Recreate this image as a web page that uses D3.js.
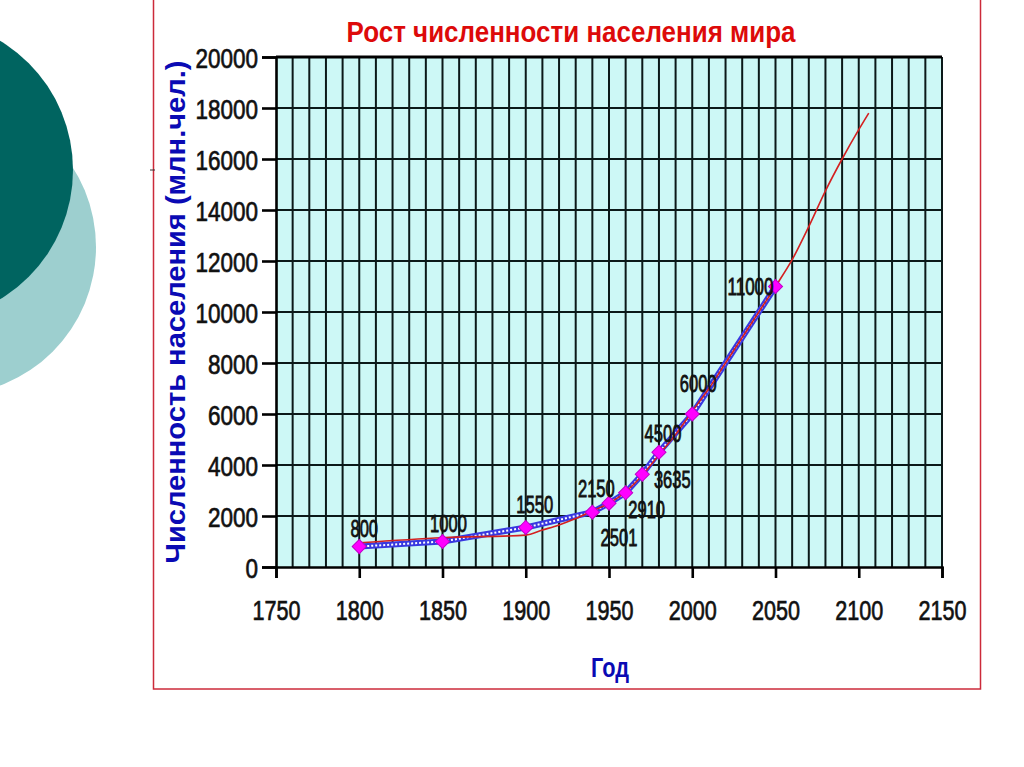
<!DOCTYPE html>
<html>
<head>
<meta charset="utf-8">
<script src="https://cdn.jsdelivr.net/npm/d3@7"></script>
<style>
  html, body { margin: 0; padding: 0; background: #fff; }
  svg { display: block; }
</style>
</head>
<body>
<script>
// World population growth chart (Рост численности населения мира)

// ---------------------------------------------------------------------------
// Data
// ---------------------------------------------------------------------------

const YEARS = [1800, 1850, 1900, 1940, 1950, 1960, 1970, 1980, 2000, 2050];
const POPULATION = [800, 1000, 1550, 2150, 2501, 2910, 3635, 4500, 6000, 11000];

// Red trend line
const TREND_YEARS = [1800, 1850, 1900, 1910, 1920, 1930, 1940, 1950, 1960, 1970, 1980, 1990,
  2000, 2010, 2020, 2030, 2040, 2050, 2060, 2070, 2080, 2090, 2100, 2106];
const TREND_VALUES = [950, 1150, 1250, 1450, 1650, 1900, 2200, 2500, 2950, 3600, 4400, 5200,
  6100, 7000, 8000, 9000, 10000, 11000, 12050, 13350, 14750, 16000, 17150, 17800];

const X_TICKS = [1750, 1800, 1850, 1900, 1950, 2000, 2050, 2100, 2150];
const Y_TICKS = [0, 2000, 4000, 6000, 8000, 10000, 12000, 14000, 16000, 18000, 20000];

const TITLE = "Рост численности населения мира";
const Y_TITLE = "Численность населения (млн.чел.)";
const X_TITLE = "Год";

// Label offsets from each point (layout only)
const LABEL_OFFSETS = [[5, -10], [6, -10], [9, -14], [4, -15], [10, 43], [21, 25], [30, 14], [4, -10], [6, -22], [-25, 8]];

// ---------------------------------------------------------------------------
// Layout
// ---------------------------------------------------------------------------

const W = 1024, H = 767;
const plot = { left: 276, right: 942, top: 57, bottom: 567 };
const NARROW = "'Liberation Sans Narrow', 'Liberation Sans', Arial, sans-serif";

const svg = d3.select("body").append("svg")
  .attr("width", W)
  .attr("height", H)
  .attr("font-family", NARROW);

svg.append("rect").attr("width", W).attr("height", H).attr("fill", "#fff");

// Decorative circles on the left
svg.append("circle").attr("cx", -52).attr("cy", 247).attr("r", 148).attr("fill", "#9dcfcf");
svg.append("circle").attr("cx", -78).attr("cy", 170).attr("r", 151).attr("fill", "#006460");

// Red frame
svg.append("rect")
  .attr("x", 153.5).attr("y", -5).attr("width", 827).attr("height", 694)
  .attr("fill", "none").attr("stroke", "#cc2a3a").attr("stroke-width", 1.5);
svg.append("line")
  .attr("x1", 150).attr("x2", 155).attr("y1", 170).attr("y2", 170)
  .attr("stroke", "#333").attr("stroke-width", 1);

const x = d3.scaleLinear().domain([1750, 2150]).range([plot.left, plot.right]);
const y = d3.scaleLinear().domain([0, 20000]).range([plot.bottom, plot.top]);

// Plot background
svg.append("rect")
  .attr("x", plot.left).attr("y", plot.top)
  .attr("width", plot.right - plot.left).attr("height", plot.bottom - plot.top)
  .attr("fill", "#cdf8f6");

// Grid
const grid = svg.append("g").attr("stroke", "#0b1919").attr("stroke-width", 2);
grid.selectAll("line.v")
  .data(d3.range(1760, 2151, 10))
  .join("line")
  .attr("x1", (d) => x(d)).attr("x2", (d) => x(d))
  .attr("y1", plot.top).attr("y2", plot.bottom);
grid.selectAll("line.h")
  .data(Y_TICKS.slice(1))
  .join("line")
  .attr("x1", plot.left).attr("x2", plot.right)
  .attr("y1", (d) => y(d)).attr("y2", (d) => y(d));
svg.append("line")
  .attr("x1", plot.left).attr("x2", plot.right)
  .attr("y1", plot.top).attr("y2", plot.top)
  .attr("stroke", "#000").attr("stroke-width", 3);

// Axes
const yAxis = svg.append("g")
  .attr("transform", `translate(${plot.left},0)`)
  .call(d3.axisLeft(y).tickValues(Y_TICKS).tickSize(14).tickPadding(4).tickFormat((d) => String(d)));
const xAxis = svg.append("g")
  .attr("transform", `translate(0,${plot.bottom})`)
  .call(d3.axisBottom(x).tickValues(X_TICKS).tickSize(11).tickFormat((d) => String(d)));

for (const ax of [xAxis, yAxis]) {
  ax.select(".domain").attr("stroke", "#000").attr("stroke-width", 2.6);
  ax.selectAll(".tick line").attr("stroke", "#000").attr("stroke-width", 2.6);
  ax.selectAll(".tick text")
    .attr("font-family", NARROW)
    .attr("font-size", 28)
    .attr("fill", "#111")
    .attr("stroke", "#111")
    .attr("stroke-width", 0.7);
}
yAxis.selectAll(".tick text")
  .attr("x", -18)
  .attr("dy", "0.36em")
  .attr("textLength", (d) => String(d).length * 12.5)
  .attr("lengthAdjust", "spacingAndGlyphs");
xAxis.selectAll(".tick text")
  .attr("y", 53)
  .attr("dy", 0)
  .attr("textLength", (d) => String(d).length * 12)
  .attr("lengthAdjust", "spacingAndGlyphs");

// Titles
svg.append("text")
  .attr("x", 571).attr("y", 42)
  .attr("text-anchor", "middle")
  .attr("font-size", 30).attr("font-weight", "bold")
  .attr("fill", "#dd0a0a")
  .attr("textLength", 449).attr("lengthAdjust", "spacingAndGlyphs")
  .text(TITLE);

svg.append("text")
  .attr("transform", "translate(185,312) rotate(-90)")
  .attr("text-anchor", "middle")
  .attr("font-family", "'Liberation Sans', Arial, sans-serif")
  .attr("font-size", 28).attr("font-weight", "bold")
  .attr("fill", "#0a0ab4")
  .attr("textLength", 503).attr("lengthAdjust", "spacingAndGlyphs")
  .text(Y_TITLE);

svg.append("text")
  .attr("x", 610).attr("y", 677)
  .attr("text-anchor", "middle")
  .attr("font-size", 27).attr("font-weight", "bold")
  .attr("fill", "#0a0ab4")
  .attr("textLength", 38).attr("lengthAdjust", "spacingAndGlyphs")
  .text(X_TITLE);

// Series
const points = YEARS.map((yr, i) => ({ year: yr, value: POPULATION[i] }));
const trend = TREND_YEARS.map((yr, i) => ({ year: yr, value: TREND_VALUES[i] }));

const line = d3.line().x((d) => x(d.year)).y((d) => y(d.value));
const smooth = d3.line().x((d) => x(d.year)).y((d) => y(d.value)).curve(d3.curveMonotoneX);

// Blue hatched data line
svg.append("path").datum(points)
  .attr("d", line).attr("fill", "none")
  .attr("stroke", "#3838e0").attr("stroke-width", 6).attr("stroke-linejoin", "round");
svg.append("path").datum(points)
  .attr("d", line).attr("fill", "none")
  .attr("stroke", "#fff").attr("stroke-width", 2).attr("stroke-dasharray", "2,2");

// Red trend line
svg.append("path").datum(trend)
  .attr("d", smooth).attr("fill", "none")
  .attr("stroke", "#d42020").attr("stroke-width", 1.6);

// Markers
svg.append("g").selectAll("path")
  .data(points)
  .join("path")
  .attr("d", d3.symbol(d3.symbolSquare, 100))
  .attr("transform", (d) => `translate(${x(d.year)},${y(d.value)}) rotate(45)`)
  .attr("fill", "#ff00ff")
  .attr("stroke", "#c000c8")
  .attr("stroke-width", 1);

// Value labels
svg.append("g").selectAll("text")
  .data(points)
  .join("text")
  .attr("x", (d, i) => x(d.year) + LABEL_OFFSETS[i][0])
  .attr("y", (d, i) => y(d.value) + LABEL_OFFSETS[i][1])
  .attr("text-anchor", "middle")
  .attr("font-size", 23)
  .attr("fill", "#111")
  .attr("stroke", "#111")
  .attr("stroke-width", 0.8)
  .attr("textLength", (d) => String(d.value).length * 9.2)
  .attr("lengthAdjust", "spacingAndGlyphs")
  .text((d) => d.value);
</script>
</body>
</html>
